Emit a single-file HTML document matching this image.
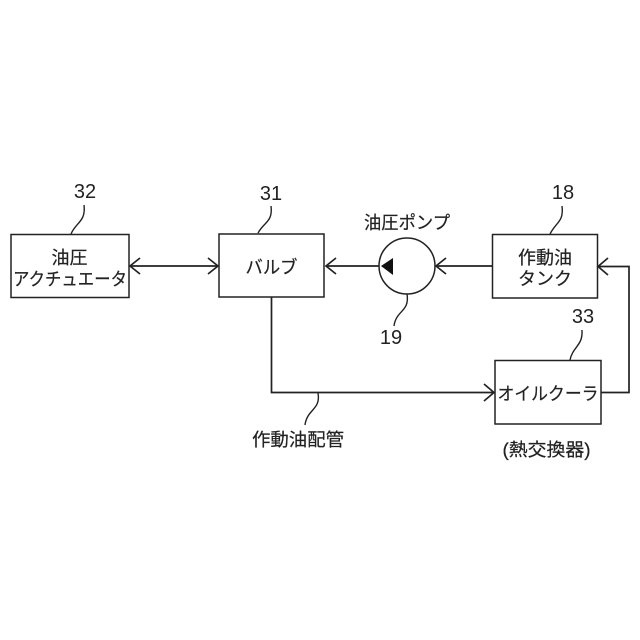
<!DOCTYPE html>
<html><head><meta charset="utf-8"><style>
html,body{margin:0;padding:0;background:#fff;width:640px;height:640px;overflow:hidden}
svg{display:block}
text{font-family:"Liberation Sans","Noto Sans CJK JP",sans-serif;fill:#222;stroke:#222;stroke-width:.2;font-size:18px;text-anchor:middle}
.n{font-size:20px;stroke-width:0}
</style></head><body>
<svg width="640" height="640" viewBox="0 0 640 640" xmlns="http://www.w3.org/2000/svg">
<g fill="#fff" stroke="#222" stroke-width="1.5">
<rect x="11" y="234.500" width="118" height="63"/>
<rect x="219" y="234" width="105" height="63"/>
<rect x="492.500" y="234.500" width="105" height="63.500"/>
<rect x="495" y="360.500" width="106" height="63.500"/>
<circle cx="407" cy="266" r="28"/>
</g>
<g fill="none" stroke="#222" stroke-width="1.7">
<path d="M130 266H218"/>
<path d="M140 258L130 266L140 274M208 258L218 266L208 274"/>
<path d="M326 266H379M336 258L326 266L336 274"/>
<path d="M436 266H492M446 258L436 266L446 274"/>
<path d="M598 266.500H629V392.500H601M608 258L598 266.500L608 275"/>
<path d="M271.500 297V392.500H494M484 384L494 392.500L484 401"/>
</g>
<path d="M381 266L393 258V275Z" fill="#111"/>
<g fill="none" stroke="#222" stroke-width="1.4">
<path d="M84 205C86 222 76 222 71 234"/>
<path d="M271 206C273 222 264 222 258 233"/>
<path d="M562 206C564 222 556 222 550 234"/>
<path d="M407 294C410 312 396 310 394 326"/>
<path d="M582 330C583 346 573 346 570 360"/>
<path d="M318 393C321 410 307 409 305 425"/>
</g>
<text class="n" x="85" y="198">32</text>
<text class="n" x="271" y="200">31</text>
<text class="n" x="563" y="199">18</text>
<text class="n" x="391" y="344">19</text>
<text class="n" x="583" y="323">33</text>
<text x="69.500" y="264">油圧</text>
<text x="70" y="285.500" textLength="114" lengthAdjust="spacingAndGlyphs">アクチュエータ</text>
<text x="271.500" y="273.500" textLength="52" lengthAdjust="spacingAndGlyphs">バルブ</text>
<text x="407" y="229" textLength="86" lengthAdjust="spacingAndGlyphs">油圧ポンプ</text>
<text x="545" y="264" textLength="54" lengthAdjust="spacingAndGlyphs">作動油</text>
<text x="545" y="285" textLength="54" lengthAdjust="spacingAndGlyphs">タンク</text>
<text x="548" y="400" textLength="101" lengthAdjust="spacingAndGlyphs">オイルクーラ</text>
<text x="298" y="446" textLength="92" lengthAdjust="spacingAndGlyphs">作動油配管</text>
<text x="546.500" y="456" textLength="88" lengthAdjust="spacingAndGlyphs">(熱交換器)</text>
</svg>
</body></html>
